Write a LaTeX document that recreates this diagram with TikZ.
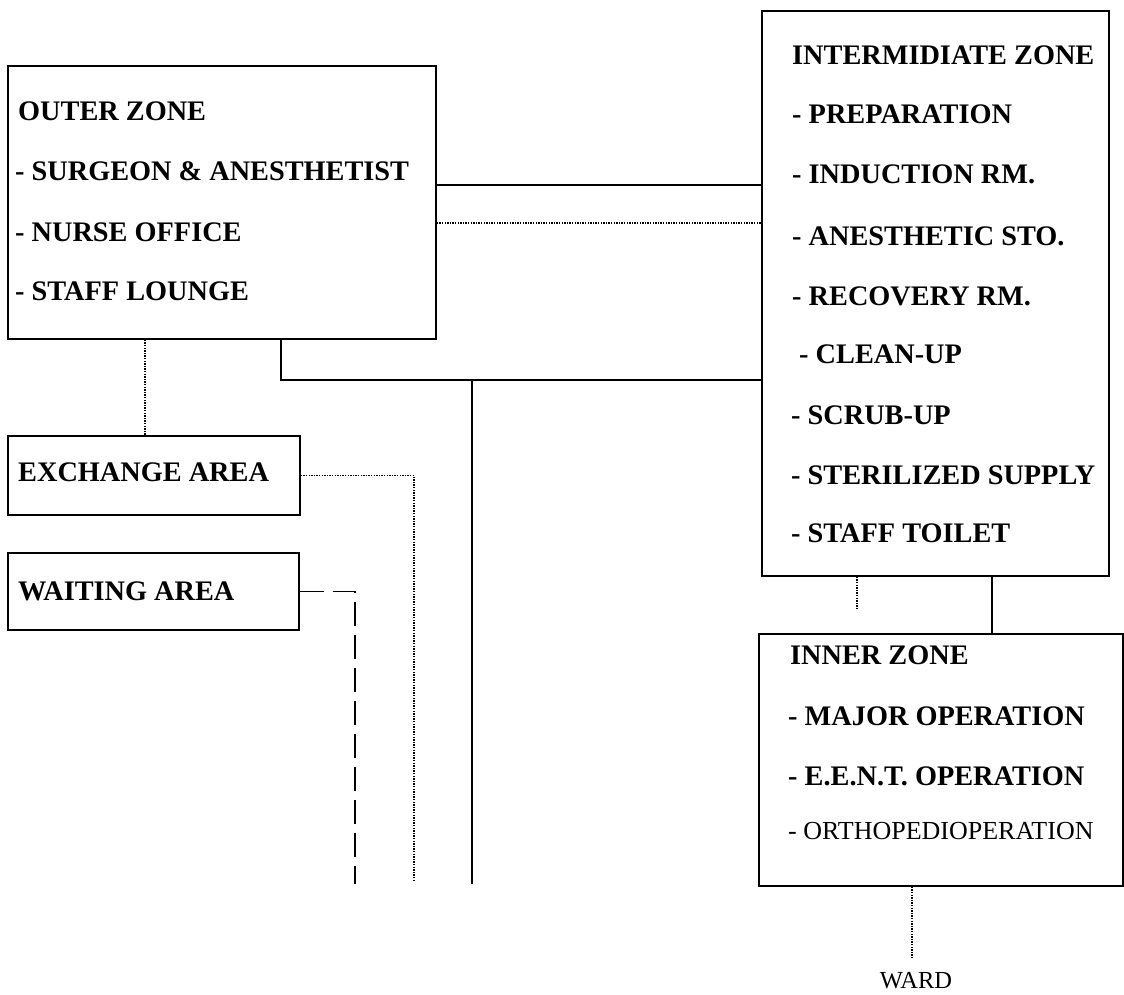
\documentclass[tikz,border=0pt]{standalone}
\usepackage{fontspec}
\setmainfont{Liberation Serif}
\usetikzlibrary{calc}

\begin{document}
\begin{tikzpicture}[x=1pt,y=-1pt,
  zone/.style={draw, line width=1.8pt, rectangle, inner sep=0pt, anchor=north west},
  entry/.style={anchor=base west, inner sep=0pt, font=\fontsize{28.3}{28.3}\selectfont\bfseries},
  light/.style={anchor=base west, inner sep=0pt, font=\fontsize{26}{26}\selectfont},
  solidlink/.style={line width=1.8pt},
  dottedlink/.style={line width=1.5pt, dash pattern=on 1.3pt off 1.3pt},
  dashedlink/.style={line width=1.8pt, dash pattern=on 24pt off 9pt}]

\useasboundingbox[fill=white] (0,0) rectangle (1124,995);

% zone boxes
\node[zone, minimum width=428pt, minimum height=273pt] (outer) at (7,65) {};
\node[zone, minimum width=347pt, minimum height=565pt] (inter) at (761,10) {};
\node[zone, minimum width=292pt, minimum height=79pt] (exch) at (7,435) {};
\node[zone, minimum width=291pt, minimum height=77pt] (wait) at (7,552) {};
\node[zone, minimum width=364pt, minimum height=252pt] (inner) at (758,633) {};

% outer zone
\node[entry] (o0) at (18,121) {OUTER ZONE};
\node[entry] (o1) at (15,181) {- SURGEON \& ANESTHETIST};
\node[entry] (o2) at (15,241) {- NURSE OFFICE};
\node[entry] (o3) at (15,300) {- STAFF LOUNGE};

% intermediate zone
\node[entry] (i0) at (792,65) {INTERMIDIATE ZONE};
\node[entry] (i1) at (792,124) {- PREPARATION};
\node[entry] (i2) at (792,184) {- INDUCTION RM.};
\node[entry] (i3) at (792,245) {- ANESTHETIC STO.};
\node[entry] (i4) at (792,305) {- RECOVERY RM.};
\node[entry] (i5) at (799,363) {- CLEAN-UP};
\node[entry] (i6) at (791,424) {- SCRUB-UP};
\node[entry] (i7) at (791,484) {- STERILIZED SUPPLY};
\node[entry] (i8) at (791,542) {- STAFF TOILET};

% exchange and waiting areas
\node[entry] (x0) at (18,481) {EXCHANGE AREA};
\node[entry] (w0) at (18,600) {WAITING AREA};

% inner zone
\node[entry] (n0) at (790,664) {INNER ZONE};
\node[entry] (n1) at (788,725) {- MAJOR OPERATION};
\node[entry] (n2) at (788,785) {- E.E.N.T. OPERATION};
\node[light] (n3) at (788,839) {- ORTHOPEDIOPERATION};

\node[anchor=base, inner sep=0pt, font=\fontsize{24.5}{24.5}\selectfont] (ward) at (916,988) {WARD};

% outer zone to intermediate zone
\coordinate (s1) at ([yshift=17.5pt]outer.east);
\draw[solidlink] (s1) -- (s1 -| inter.west);
\coordinate (s2) at ([yshift=-20.5pt]outer.east);
\draw[dottedlink] (s2) -- (s2 -| inter.west);

% corridor below the outer zone
\coordinate (e1) at ([xshift=59pt]outer.south);
\coordinate (junction) at ($(e1)+(0,40)$);
\draw[solidlink] (e1) -- (junction) -- (junction -| inter.west);
\coordinate (drop) at (472,884);
\draw[solidlink] (drop |- junction) -- (drop);

% outer zone to exchange area
\coordinate (d1) at ([xshift=-77pt]outer.south);
\draw[dottedlink] (d1) -- (d1 |- exch.north);

% exchange and waiting area runs
\coordinate (xend) at (414,880);
\draw[dottedlink] (exch.east) -| (xend);
\coordinate (wend) at (355,884);
\draw[dashedlink] (wait.east) -| (wend);

% intermediate zone to inner zone
\coordinate (stub) at (857,610);
\draw[dottedlink] (stub |- inter.south) -- (stub);
\coordinate (c1) at ([xshift=56.5pt]inter.south);
\draw[solidlink] (c1) -- (c1 |- inner.north);

% inner zone to ward
\coordinate (wl) at (912,958);
\draw[dottedlink] (wl |- inner.south) -- (wl);

\end{tikzpicture}
\end{document}
